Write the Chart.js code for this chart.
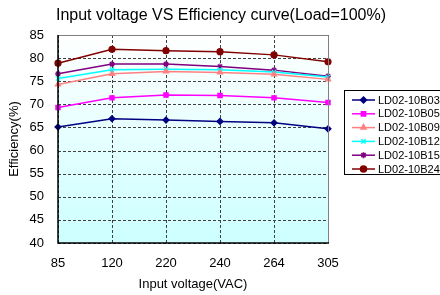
<!DOCTYPE html>
<html>
<head>
<meta charset="utf-8">
<script src="https://cdn.jsdelivr.net/npm/chart.js@4"></script>
<style>
  html, body { margin: 0; padding: 0; background: #fff; }
  #wrap { width: 440px; height: 295px; position: relative; }
</style>
</head>
<body>
<div id="wrap"><canvas id="eff"></canvas></div>
<script>
// input voltage categories (VAC)
const voltages = ["85", "120", "220", "240", "264", "305"];

// efficiency (%) per model
const b03 = [65.1, 66.9, 66.6, 66.3, 66.0, 64.7];
const b05 = [69.3, 71.4, 72.0, 71.9, 71.4, 70.4];
const b09 = [74.3, 76.6, 77.1, 76.9, 76.5, 75.4];
const b12 = [75.6, 77.5, 77.6, 77.5, 77.0, 75.9];
const b15 = [76.6, 78.7, 78.7, 78.2, 77.4, 76.1];
const b24 = [78.9, 81.9, 81.6, 81.4, 80.7, 79.2];

const TITLE = "Input voltage VS Efficiency curve(Load=100%)";
const FONT = "'Liberation Sans', Arial, sans-serif";

function ds(label, data, color, style) {
  return {
    label, data, borderColor: color, backgroundColor: color,
    borderWidth: 1.5, pointStyle: style, pointRadius: 3,
    pointBorderColor: color, pointBorderWidth: 1.2, tension: 0,
  };
}

// gradient plot background, dashed grid, frame, title
const plotBg = {
  id: "plotBg",
  beforeDraw(chart) {
    const { ctx, chartArea: a } = chart;
    const g = ctx.createLinearGradient(0, a.top, 0, a.bottom);
    g.addColorStop(0, "#ffffff");
    g.addColorStop(1, "#ccffff");
    ctx.save();
    ctx.fillStyle = g;
    ctx.fillRect(a.left, a.top, a.right - a.left, a.bottom - a.top);
    ctx.font = "16px " + FONT;
    ctx.fillStyle = "#000";
    ctx.textAlign = "center";
    ctx.textBaseline = "middle";
    ctx.fillText(TITLE, 221, 16);
    ctx.restore();
  },
  beforeDatasetsDraw(chart) {
    const { ctx, chartArea: a, scales } = chart;
    ctx.save();
    ctx.strokeStyle = "#404040";
    ctx.lineWidth = 1;
    ctx.setLineDash([3, 2]);
    scales.y.ticks.forEach((t) => {
      const y = Math.round(scales.y.getPixelForValue(t.value)) + 0.5;
      ctx.beginPath(); ctx.moveTo(a.left, y); ctx.lineTo(a.right, y); ctx.stroke();
    });
    voltages.forEach((v, i) => {
      const x = Math.round(scales.x.getPixelForValue(i)) + 0.5;
      ctx.beginPath(); ctx.moveTo(x, a.top); ctx.lineTo(x, a.bottom); ctx.stroke();
    });
    ctx.restore();
  },
  afterDatasetsDraw(chart) {
    const { ctx, chartArea: a } = chart;
    ctx.save();
    ctx.lineWidth = 1;
    ctx.strokeStyle = "#808080";
    ctx.beginPath();
    ctx.moveTo(a.left, a.top + 0.5); ctx.lineTo(a.right + 0.5, a.top + 0.5); ctx.lineTo(a.right + 0.5, a.bottom);
    ctx.stroke();
    ctx.strokeStyle = "#000";
    ctx.lineWidth = 1.5;
    ctx.beginPath();
    ctx.moveTo(a.left, a.top); ctx.lineTo(a.left, a.bottom); ctx.lineTo(a.right + 1, a.bottom);
    ctx.stroke();
    ctx.restore();
  },
};

// boxed legend on the right
const boxLegend = {
  id: "boxLegend",
  afterDraw(chart) {
    const ctx = chart.ctx;
    ctx.save();
    ctx.fillStyle = "#fff";
    ctx.fillRect(344.5, 90.5, 100, 84);
    ctx.strokeStyle = "#000";
    ctx.lineWidth = 1;
    ctx.strokeRect(344.5, 90.5, 100, 84);
    ctx.font = "11px " + FONT;
    ctx.textBaseline = "middle";
    chart.data.datasets.forEach((d, i) => {
      const y = 100 + i * 13.8;
      ctx.strokeStyle = d.borderColor;
      ctx.lineWidth = 1.5;
      ctx.beginPath(); ctx.moveTo(352, y); ctx.lineTo(375, y); ctx.stroke();
      ctx.fillStyle = d.backgroundColor;
      Chart.helpers.drawPoint(ctx, { pointStyle: d.pointStyle, radius: 3, borderWidth: 1.2 }, 363.5, y);
      ctx.fillStyle = "#000";
      ctx.fillText(d.label, 378, y + 0.5);
    });
    ctx.restore();
  },
};

new Chart(document.getElementById("eff"), {
  type: "line",
  data: {
    labels: voltages,
    datasets: [
      ds("LD02-10B03", b03, "#000080", "rectRot"),
      ds("LD02-10B05", b05, "#ff00ff", "rect"),
      ds("LD02-10B09", b09, "#ff8080", "triangle"),
      ds("LD02-10B12", b12, "#00ffff", "crossRot"),
      ds("LD02-10B15", b15, "#800080", "star"),
      ds("LD02-10B24", b24, "#800000", "circle"),
    ],
  },
  options: {
    responsive: true,
    maintainAspectRatio: false,
    animation: false,
    layout: { padding: { left: 0, right: 112, top: 35, bottom: 0 } },
    plugins: {
      legend: { display: false },
      tooltip: { enabled: false },
      title: { display: false },
    },
    scales: {
      x: {
        type: "category",
        offset: false,
        grid: { display: false, drawTicks: false },
        border: { display: false },
        ticks: { color: "#000", font: { family: FONT, size: 13 }, padding: 13, maxRotation: 0 },
        title: { display: true, text: "Input voltage(VAC)", color: "#000", font: { family: FONT, size: 13 }, padding: { top: 2, bottom: 3 } },
        afterFit(s) { s.height = 52; },
      },
      y: {
        min: 40, max: 85,
        ticks: { stepSize: 5, color: "#000", font: { family: FONT, size: 13 }, padding: 14 },
        grid: { display: false, drawTicks: false },
        border: { display: false },
        title: { display: true, text: "Efficiency(%)", color: "#000", font: { family: FONT, size: 13 }, padding: { top: 7, bottom: 0 } },
        afterFit(s) { s.width = 58; },
      },
    },
  },
  plugins: [plotBg, boxLegend],
});
</script>
</body>
</html>
